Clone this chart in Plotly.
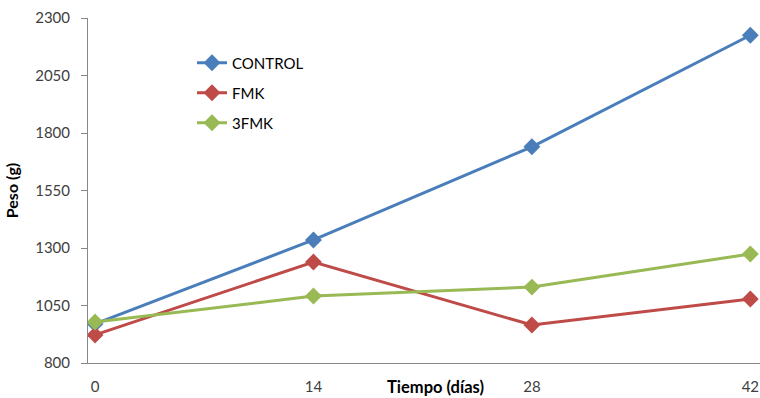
import plotly.graph_objects as go

# Body weight over time for each treatment
dias = [0, 14, 28, 42]
control = [970, 1335, 1740, 2225]
fmk = [922, 1239, 965, 1078]
fmk3 = [978, 1091, 1130, 1274]

series = [
    ("CONTROL", control, "#4A7EBB", "legend"),
    ("FMK", fmk, "#BE4B48", "legend2"),
    ("3FMK", fmk3, "#98B954", "legend3"),
]

fig = go.Figure()
for name, vals, color, leg in series:
    fig.add_trace(go.Scatter(
        x=dias, y=vals, name=name, mode="lines+markers",
        line=dict(color=color, width=3),
        marker=dict(symbol="diamond", size=13, color=color),
        legend=leg,
    ))

font_family = "Lato, 'Open Sans', sans-serif"
leg_common = dict(
    bgcolor="rgba(0,0,0,0)", borderwidth=0,
    font=dict(family=font_family, size=15, color="#000000"),
    xanchor="left", yanchor="middle", xref="paper", yref="paper",
    itemwidth=30,
)
# paper coords: plot area spans x 88..760, y 18..363
def px_x(p):
    return (p - 88) / (760 - 88)

def px_y(p):
    return (363 - p) / (363 - 18)

fig.update_layout(
    width=760, height=398,
    margin=dict(l=88, r=0, t=18, b=35),
    paper_bgcolor="white", plot_bgcolor="white",
    font=dict(family=font_family, size=15, color="#404040"),
    showlegend=True,
    legend=dict(leg_common, x=px_x(192), y=px_y(63)),
    legend2=dict(leg_common, x=px_x(192), y=px_y(93)),
    legend3=dict(leg_common, x=px_x(192), y=px_y(123)),
    xaxis=dict(
        range=[-0.45, 42.62], tickvals=dias, ticktext=[str(d) for d in dias],
        showgrid=False, zeroline=False, showline=True, linecolor="#888888",
        linewidth=1, ticks="", ticklabelstandoff=10, automargin=False,
        tickfont=dict(family=font_family, size=15, color="#404040"),
    ),
    yaxis=dict(
        range=[800, 2300], tickvals=[800, 1050, 1300, 1550, 1800, 2050, 2300],
        showgrid=False, zeroline=False, showline=True, linecolor="#888888",
        linewidth=1, ticks="outside", ticklen=6, tickcolor="#888888",
        ticklabelstandoff=8, automargin=False,
        tickfont=dict(family=font_family, size=15, color="#404040"),
        title=dict(text="<b>Peso (g)</b>", standoff=12,
                   font=dict(family=font_family, size=16, color="#000000")),
    ),
    annotations=[dict(
        text="<b>Tiempo (días)</b>", xref="paper", yref="paper",
        x=px_x(435), y=px_y(387), xanchor="center", yanchor="middle",
        showarrow=False,
        font=dict(family=font_family, size=16.5, color="#000000"),
    )],
)

fig.write_html("out.html")
